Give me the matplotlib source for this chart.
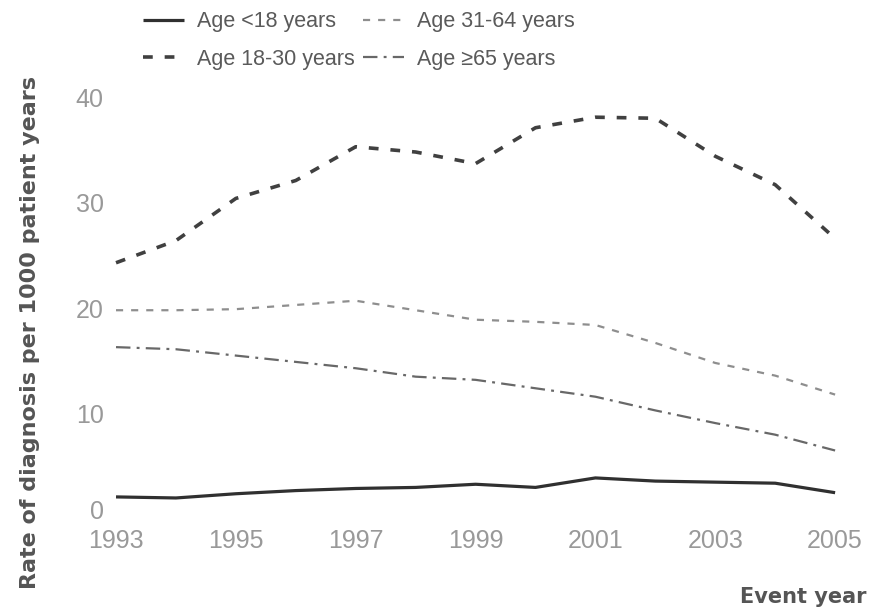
import matplotlib
matplotlib.use('Agg')
import matplotlib.pyplot as plt
from matplotlib.transforms import ScaledTranslation

years = [1993, 1994, 1995, 1996, 1997, 1998, 1999, 2000, 2001, 2002, 2003, 2004, 2005]
age_under18 = [2.1, 2.0, 2.4, 2.7, 2.9, 3.0, 3.3, 3.0, 3.9, 3.6, 3.5, 3.4, 2.5]
age_18_30 = [24.3, 26.4, 30.4, 32.1, 35.3, 34.8, 33.7, 37.1, 38.1, 38.0, 34.4, 31.7, 26.6]
age_31_64 = [19.8, 19.8, 19.9, 20.3, 20.7, 19.8, 18.9, 18.7, 18.4, 16.7, 14.8, 13.6, 11.8]
age_65plus = [16.3, 16.1, 15.5, 14.9, 14.3, 13.5, 13.2, 12.4, 11.6, 10.3, 9.1, 8.0, 6.5]
labels = ['Age <18 years', 'Age 18-30 years', 'Age 31-64 years', 'Age \u226565 years']
x_ticks = [1993, 1995, 1997, 1999, 2001, 2003, 2005]
y_ticks = [0, 10, 20, 30, 40]

plt.rcParams['font.family'] = ['Liberation Sans', 'DejaVu Sans']

fig = plt.figure(figsize=(8.69, 6.15), dpi=100)
ax = fig.add_axes([0.1335, 0.156, 0.8275, 0.686])

l1, = ax.plot(years, age_under18, color='#303030', lw=2.3, solid_capstyle='butt', clip_on=False)
l2, = ax.plot(years, age_18_30, color='#404040', lw=2.6, dashes=[2.7, 3.3], clip_on=False)
l3, = ax.plot(years, age_31_64, color='#8e8e8e', lw=1.6, dashes=[3.2, 3.6], clip_on=False)
l4, = ax.plot(years, age_65plus, color='#686868', lw=1.6, dashes=[6.5, 2.8, 1.3, 2.8], clip_on=False)

ax.set_xlim(1993, 2005)
ax.set_ylim(0, 40)
ax.set_xticks(x_ticks)
ax.set_yticks(y_ticks)
ax.tick_params(length=0, labelsize=18, labelcolor='#999999')
ax.tick_params(axis='x', pad=7)
ax.tick_params(axis='y', pad=9)
for s in ax.spines.values():
    s.set_visible(False)

# the zero label sits a little above the baseline in the original
zero = ax.get_yticklabels()[0]
zero.set_transform(zero.get_transform() + ScaledTranslation(0, 0.1, fig.dpi_scale_trans))

fig.text(0.034, 0.46, 'Rate of diagnosis per 1000 patient years', rotation=90,
         ha='center', va='center', fontsize=16, fontweight='bold', color='#555555',
         family=['DejaVu Sans'])
fig.text(0.997, 0.03, 'Event year', ha='right', va='center', fontsize=15,
         fontweight='bold', color='#555555', family=['DejaVu Sans'])

fig.legend([l1, l2, l3, l4], labels, ncol=2, loc='upper left',
           bbox_to_anchor=(0.1646, 0.982), frameon=False, fontsize=15.5,
           handlelength=1.9, handletextpad=0.6, columnspacing=0.4,
           labelspacing=0.78, borderpad=0, borderaxespad=0, labelcolor='#5a5a5a')

fig.savefig('out.png', dpi=100)
